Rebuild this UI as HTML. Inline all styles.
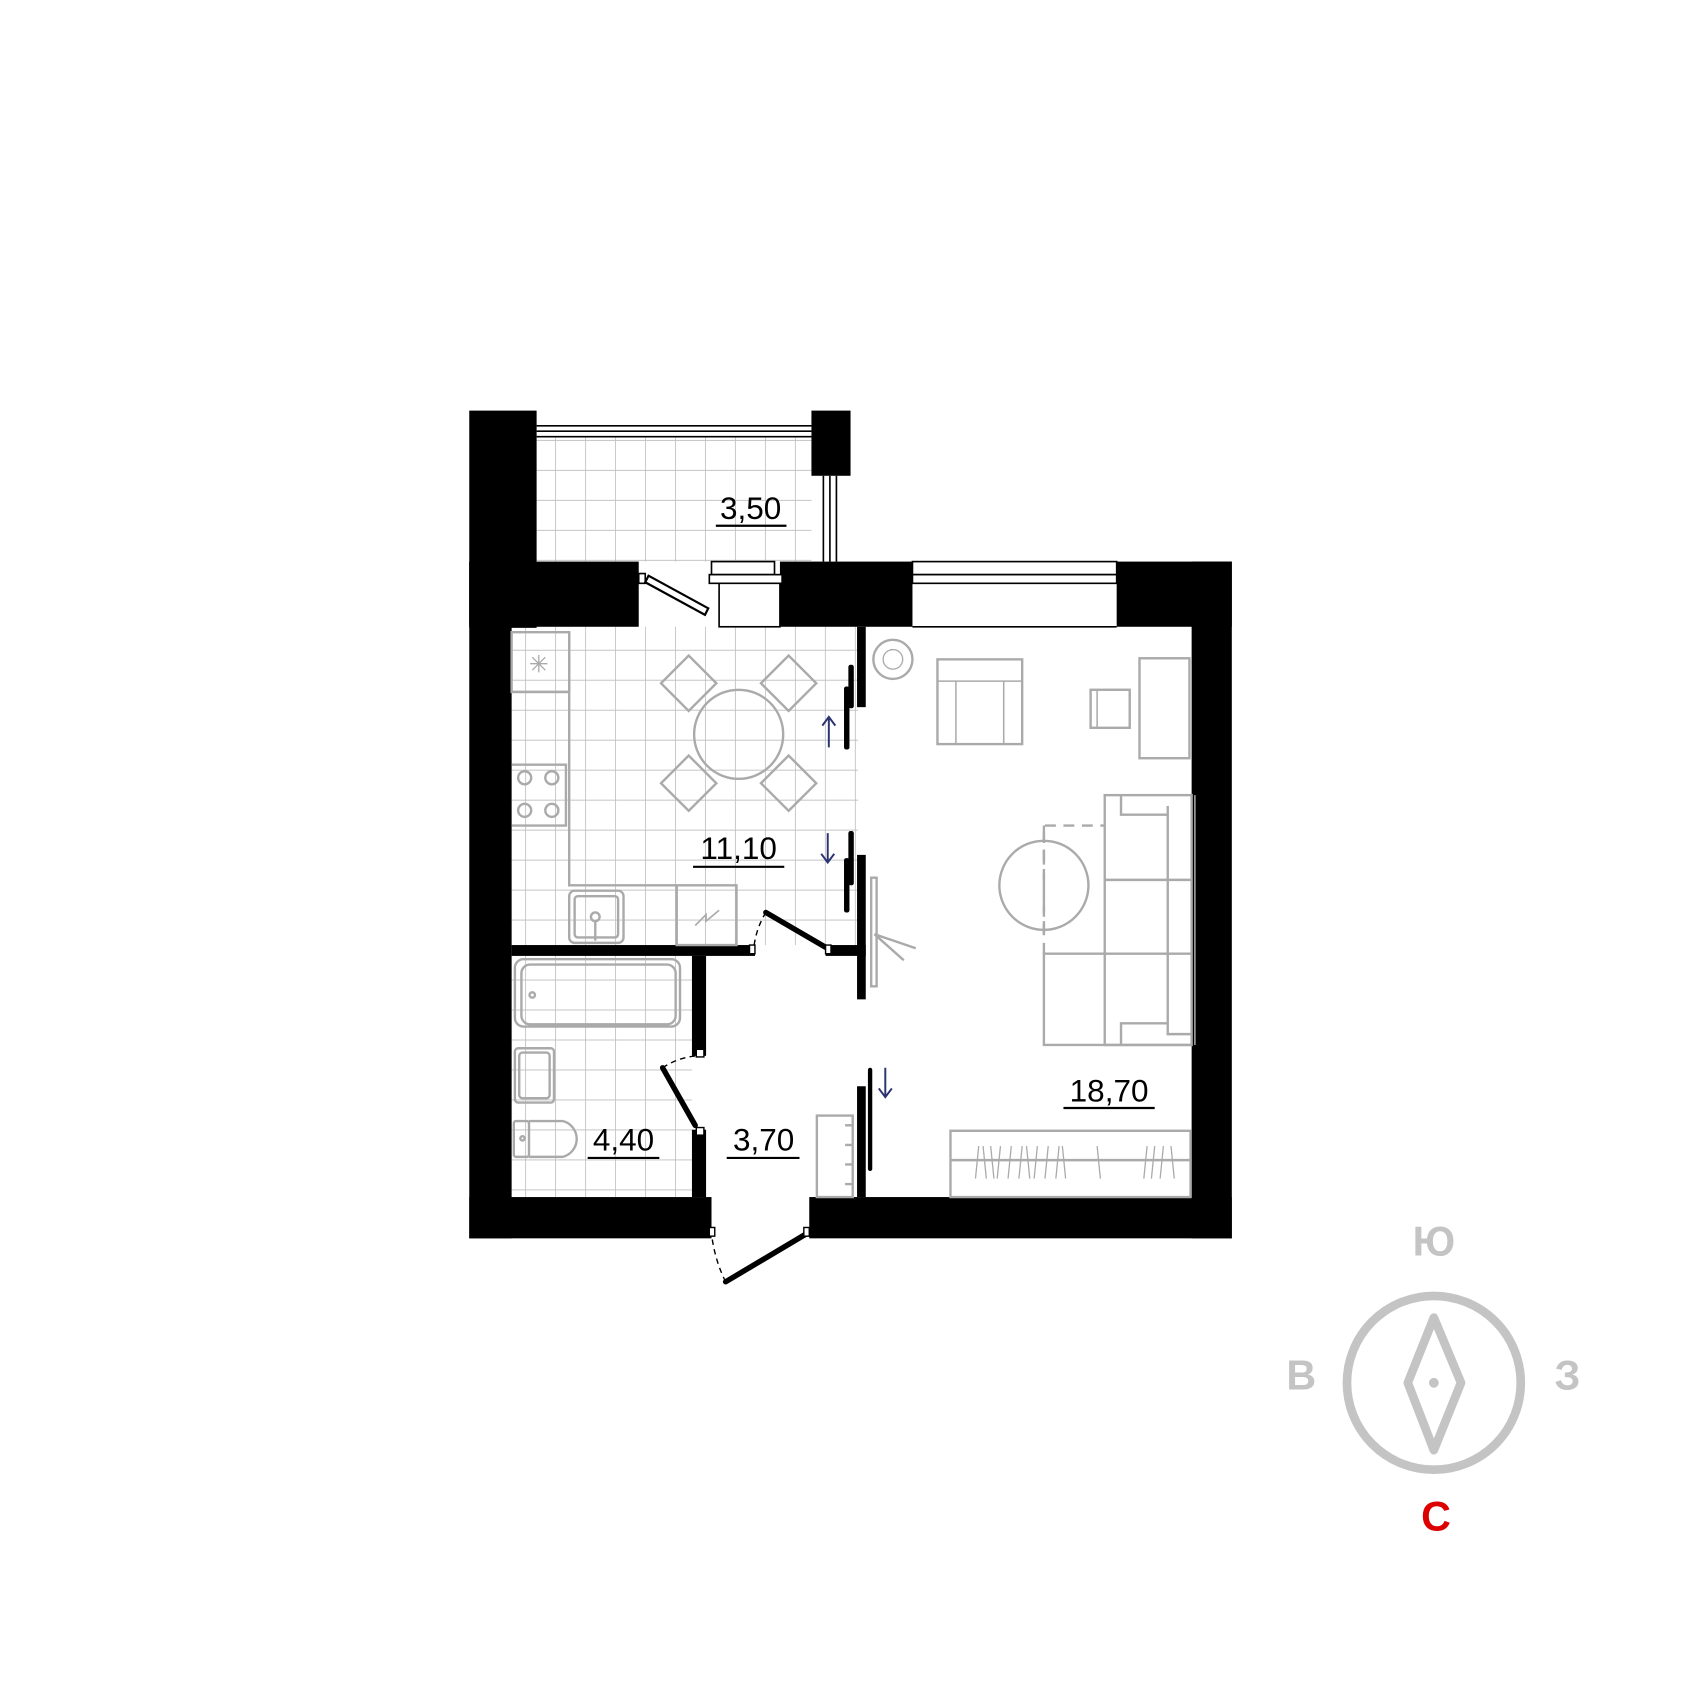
<!DOCTYPE html>
<html><head><meta charset="utf-8"><style>html,body{margin:0;padding:0;background:#fff}svg{display:block}</style></head>
<body>
<svg width="1700" height="1700" viewBox="0 0 1565 1565" xmlns="http://www.w3.org/2000/svg">
<defs>
<pattern id="tile" patternUnits="userSpaceOnUse" width="27.6" height="27.6" x="511" y="405">
<rect width="27.6" height="27.6" fill="#fff"/>
<path d="M0 0H27.6M0 0V27.6" stroke="#bdbdbd" stroke-width="1.5" fill="none"/>
</pattern>
</defs>
<rect width="1565" height="1565" fill="#fff"/>
<!-- tiled floors -->
<rect x="494" y="402" width="253" height="115" fill="url(#tile)"/>
<rect x="471" y="577" width="319" height="293" fill="url(#tile)"/>
<rect x="471" y="880" width="166" height="222" fill="url(#tile)"/>

<g fill="#000">
<!-- balcony walls -->
<rect x="432" y="378" width="62" height="200"/>
<rect x="747" y="378" width="36" height="60"/>
<!-- top wall -->
<rect x="432" y="517" width="156" height="60"/>
<rect x="718" y="517" width="122" height="60"/>
<rect x="1028" y="517" width="106" height="60"/>
<!-- left & right -->
<rect x="432" y="517" width="39" height="623"/>
<rect x="1097" y="517" width="37" height="623"/>
<!-- bottom -->
<rect x="432" y="1102" width="223" height="38"/>
<rect x="745" y="1102" width="389" height="38"/>
<!-- kitchen/bath wall -->
<rect x="471" y="870" width="224" height="10"/>
<rect x="760" y="870" width="37" height="10"/>
<!-- bath right wall -->
<rect x="637" y="880" width="13" height="92"/>
<rect x="637" y="1040" width="13" height="62"/>
<!-- partition kitchen/living -->
<rect x="789" y="577" width="8" height="74"/>
<rect x="789" y="787" width="8" height="133"/>
<rect x="789" y="1000" width="8" height="102"/>
<rect x="781" y="612" width="5" height="40" rx="2"/>
<rect x="777" y="632" width="5" height="58" rx="2"/>
<rect x="781" y="765" width="5" height="50" rx="2"/>
<rect x="777" y="790" width="5" height="50" rx="2"/>
<rect x="799" y="983" width="4" height="95" rx="2"/>
</g>

<!-- balcony rails -->
<g fill="none" stroke="#000" stroke-width="1.5">
<path d="M494 392H747M494 397H747M494 402H747"/>
<path d="M758 438V517M764 438V517M770 438V517"/>
<!-- window middle -->
<rect x="655" y="517" width="58" height="12" fill="#fff"/>
<rect x="653" y="529" width="67" height="8" fill="#fff"/>
<rect x="662" y="537" width="56" height="40" fill="#fff"/>
<!-- big window -->
<rect x="840" y="517" width="188" height="12" fill="#fff"/>
<rect x="840" y="529" width="188" height="8" fill="#fff"/>
<path d="M840 577H1028"/>
<!-- balcony door -->
<rect x="588" y="528" width="6" height="9" fill="#fff"/>
<polygon points="597,530 652,560 649,566 594,536" fill="#fff" stroke-width="2"/>
</g>

<!-- labels -->
<g font-family="'Liberation Sans',sans-serif" font-size="29" fill="#000" text-anchor="middle">
<text x="691" y="478">3,50</text>
<text x="680" y="791">11,10</text>
<text x="1021" y="1014">18,70</text>
<text x="574" y="1059">4,40</text>
<text x="703" y="1059">3,70</text>
</g>
<g stroke="#000" stroke-width="2">
<path d="M659 484H724M638 798H722M979 1020H1063M541 1066H607M669 1066H736"/>
</g>

<!-- furniture -->
<g fill="none" stroke="#aaa" stroke-width="2.2">
<!-- kitchen -->
<rect x="471" y="582" width="53" height="55"/>
<path d="M524 582V815H623M471 637H524M471 704H521V760H471"/>
<path d="M488 611h16M496 603v16M490 605l12 12M502 605l-12 12" stroke-width="1.2"/>
<circle cx="483" cy="716" r="6"/><circle cx="508" cy="716" r="6"/>
<circle cx="483" cy="746" r="6"/><circle cx="508" cy="746" r="6"/>
<rect x="524" y="820" width="50" height="48" rx="5"/>
<rect x="529" y="825" width="40" height="38" rx="3"/>
<circle cx="548" cy="844" r="4"/><path d="M548 848V866"/>
<rect x="623" y="815" width="55" height="55"/>
<path d="M640 852l10-10v6l12-10" stroke-width="1.5"/>
<!-- table -->
<circle cx="680" cy="676" r="41"/>
<g transform="rotate(45 634 629)"><rect x="616" y="611" width="36" height="36"/></g>
<g transform="rotate(45 726 629)"><rect x="708" y="611" width="36" height="36"/></g>
<g transform="rotate(45 634 721)"><rect x="616" y="703" width="36" height="36"/></g>
<g transform="rotate(45 726 721)"><rect x="708" y="703" width="36" height="36"/></g>
<!-- bathroom -->
<rect x="474" y="883" width="152" height="62" rx="8"/>
<rect x="480" y="888" width="142" height="55" rx="8"/>
<circle cx="490" cy="916" r="2.5"/>
<rect x="474" y="965" width="36" height="50" rx="3"/>
<rect x="478" y="969" width="28" height="42" rx="3"/>
<rect x="473" y="1032" width="14" height="33" rx="2"/>
<path d="M487 1032H518a17 17 0 0 1 0 33H487"/>
<circle cx="481" cy="1048" r="2"/>
<!-- hall cabinet -->
<rect x="752" y="1027" width="33" height="75"/>
<path d="M778 1036h7M778 1054h7M778 1072h7M778 1090h7"/>
<!-- living -->
<circle cx="822" cy="607" r="18"/><circle cx="822" cy="607" r="9" stroke-width="1.2"/>
<rect x="863" y="607" width="78" height="78"/>
<path d="M863 627H941M880 627V685M924 627V685" stroke-width="1.4"/>
<rect x="1004" y="635" width="36" height="35"/><path d="M1010 635V670" stroke-width="1.4"/>
<rect x="1049" y="606" width="46" height="92"/>
<rect x="1017" y="732" width="80" height="230"/>
<path d="M1017 878H961V962H1097M1017 810H1097M1075 742V952H1097M1032 732V750H1075M1032 962V942H1075M1017 878H1097"/>
<path d="M1100 732V962" stroke-width="1.4"/>
<path d="M961 878V760H1017" stroke-dasharray="10 7"/>
<circle cx="961" cy="815" r="41"/>
<path d="M961 760V860" stroke-dasharray="14 8"/>
<!-- TV / lamp -->
<rect x="802" y="808" width="5" height="100"/>
<path d="M805 860L843 873M805 860L832 884"/>
<!-- bed/wardrobe bottom -->
<rect x="875" y="1041" width="221" height="61"/>
<path d="M875 1068H1096"/>
<path d="M898 1085l3-30M905 1055l3 30M912 1055l3 30M918 1085l3-30M928 1085l3-30M938 1085l3-30M945 1055l3 30M952 1085l3-30M962 1085l3-30M972 1085l3-30M978 1055l3 30M1010 1055l3 30M1053 1085l3-30M1060 1085l3-30M1068 1085l3-30M1078 1055l3 30" stroke-width="1.2"/>
</g>

<!-- doors -->
<g stroke="#000" stroke-width="5" stroke-linecap="round" fill="none">
<path d="M705 840L760 872"/>
<path d="M610 983L640 1036"/>
<path d="M668 1180L742 1136"/>
</g>
<g stroke="#000" stroke-width="1.3" fill="none" stroke-dasharray="5 4">
<path d="M705 840Q696 855 694 872"/>
<path d="M610 983Q625 973 642 972"/>
<path d="M668 1180Q658 1160 655 1136"/>
</g>
<g fill="#fff" stroke="#000" stroke-width="1.3">
<rect x="690" y="870" width="5" height="8"/><rect x="760" y="870" width="5" height="8"/>
<rect x="641" y="966" width="7" height="7"/><rect x="641" y="1038" width="7" height="7"/>
<rect x="653" y="1130" width="5" height="8"/><rect x="740" y="1130" width="5" height="8"/>
</g>

<!-- arrows -->
<g stroke="#2b3370" stroke-width="1.8" fill="none">
<path d="M763 660V688M757 668L763 660L769 668"/>
<path d="M762 767V794M756 786L762 794L768 786"/>
<path d="M815 983V1010M809 1002L815 1010L821 1002"/>
</g>

<!-- compass -->
<g stroke="#c4c4c4" fill="none" stroke-width="8" stroke-linejoin="round">
<circle cx="1320" cy="1273" r="80"/>
<polygon points="1320,1213 1345,1273 1320,1335 1296,1273"/>
</g>
<circle cx="1320" cy="1273" r="4.5" fill="#c4c4c4"/>
<g font-family="'Liberation Sans',sans-serif" font-weight="bold" font-size="38" text-anchor="middle" fill="#c4c4c4">
<text x="1320" y="1156">Ю</text>
<text x="1198" y="1279">В</text>
<text x="1443" y="1279">З</text>
<text x="1322" y="1409" fill="#dd0000">С</text>
</g>
</svg>
</body></html>
